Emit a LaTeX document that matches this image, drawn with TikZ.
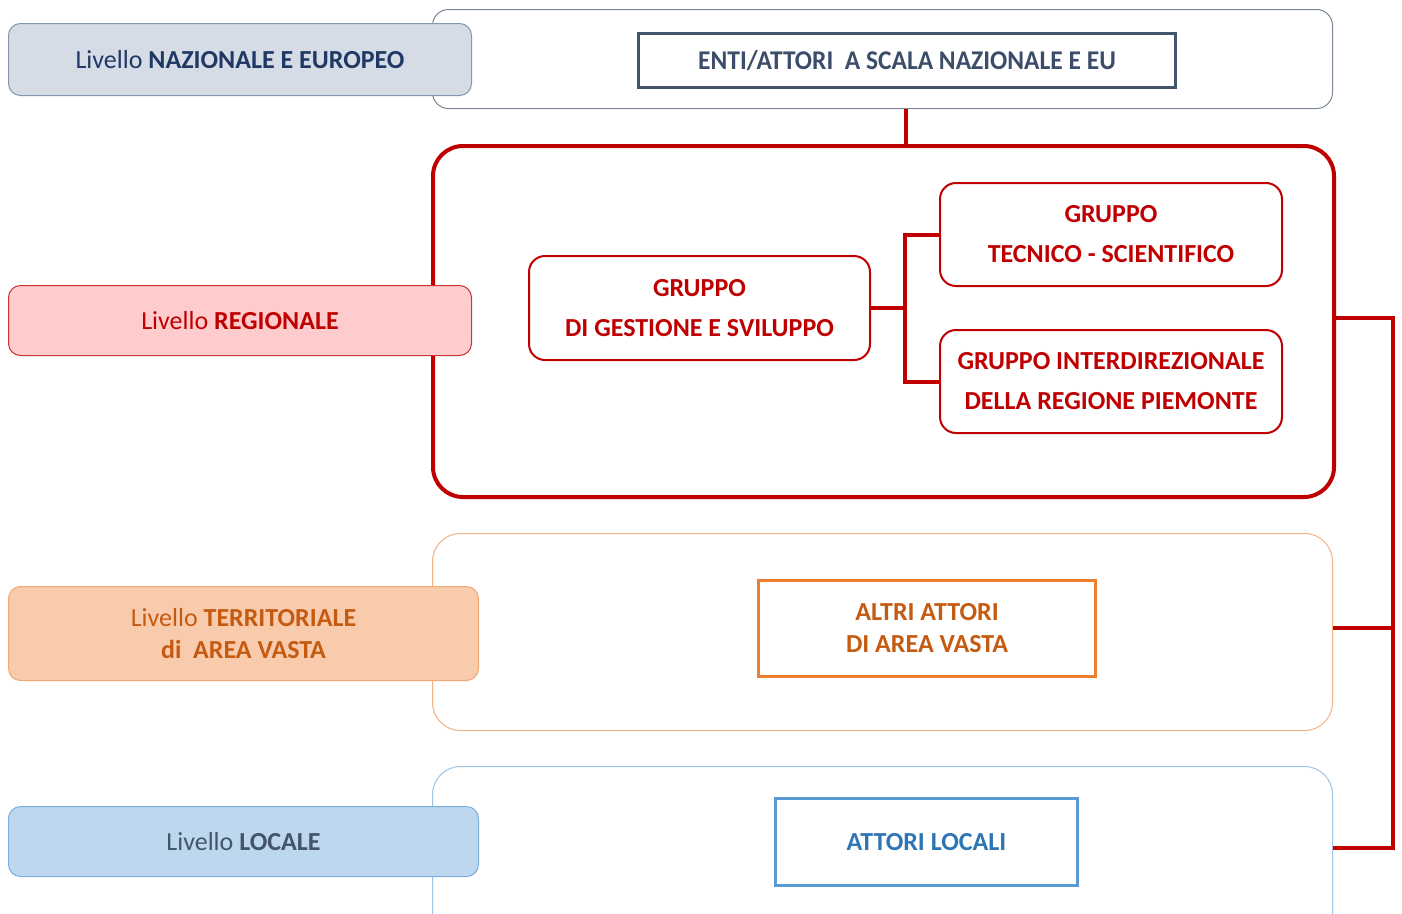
\documentclass[tikz,border=0pt]{standalone}
\usepackage{fontspec}
\setmainfont{Carlito}
\usetikzlibrary{positioning}
\definecolor{navy}{HTML}{1F3864}
\definecolor{slate}{HTML}{44546A}
\definecolor{natfill}{HTML}{D6DCE5}
\definecolor{natline}{HTML}{8497B0}
\definecolor{redd}{HTML}{C00000}
\definecolor{regfill}{HTML}{FFCCCD}
\definecolor{orng}{HTML}{ED7D31}
\definecolor{orngtxt}{HTML}{C55A11}
\definecolor{terfill}{HTML}{F8CBAD}
\definecolor{terline}{HTML}{F4B183}
\definecolor{blu}{HTML}{5B9BD5}
\definecolor{blutxt}{HTML}{2E75B6}
\definecolor{locfill}{HTML}{BDD7EE}
\definecolor{locline}{HTML}{9DC3E6}
\begin{document}
\begin{tikzpicture}[x=1pt,y=-1pt,
  lvl/.style={draw,rounded corners=12pt,line width=1pt,inner sep=0pt,align=center,font=\fontsize{26}{32}\selectfont},
  row/.style={draw,rounded corners=28pt,line width=1pt,fill=white},
  inbox/.style={draw,line width=3pt,inner sep=0pt,align=center,font=\fontsize{26}{32}\selectfont\bfseries},
  grp/.style={draw=redd,rounded corners=16pt,line width=2pt,inner sep=0pt,align=center,text=redd,font=\fontsize{26}{40}\selectfont\bfseries},
  link/.style={draw=redd,line width=4pt}]
\path[use as bounding box] (0,0) rectangle (1402,913);
\fill[white] (0,0) rectangle (1402,913);
% rows
\node[row,draw=slate!70,rounded corners=16pt,minimum width=900pt,minimum height=99pt,anchor=north west] (rnat) at (432,9) {};
\node[row,draw=redd,line width=4pt,rounded corners=30pt,minimum width=901pt,minimum height=351pt,anchor=north west] (rreg) at (431,144) {};
\node[row,draw=terline,minimum width=900pt,minimum height=197pt,anchor=north west] (rter) at (432,533) {};
\begin{scope}
\clip (0,0) rectangle (1402,913);
\node[row,draw=locline,minimum width=900pt,minimum height=200pt,anchor=north west] (rloc) at (432,766) {};
\end{scope}
% level labels
\node[lvl,draw=natline,fill=natfill,text=navy,minimum width=463pt,minimum height=72pt,anchor=north west] (lnat) at (8,23) {Livello \textbf{NAZIONALE E EUROPEO}};
\node[lvl,draw=redd!80,fill=regfill,text=redd,minimum width=463pt,minimum height=70pt,anchor=north west] (lreg) at (8,285) {Livello \textbf{REGIONALE}};
\node[lvl,draw=terline!80!orng,fill=terfill,text=orngtxt,minimum width=470pt,minimum height=94pt,anchor=north west] (lter) at (8,586) {Livello \textbf{TERRITORIALE}\\ \textbf{di\ \ AREA VASTA}};
\node[lvl,draw=blu!80,fill=locfill,text=slate,minimum width=470pt,minimum height=70pt,anchor=north west] (lloc) at (8,806) {Livello \textbf{LOCALE}};
% inner boxes
\node[inbox,draw=slate,text=slate!75!navy,minimum width=537pt,minimum height=54pt,anchor=north west] (enti) at (637,32) {\scalebox{0.98}[1.04]{ENTI/ATTORI\ \ A SCALA NAZIONALE E EU}};
\node[grp,minimum width=341pt,minimum height=104pt,anchor=north west] (gest) at (528,255) {GRUPPO\\DI GESTIONE E SVILUPPO};
\node[grp,minimum width=342pt,minimum height=103pt,anchor=north west] (tec) at (939,182) {GRUPPO\\TECNICO - SCIENTIFICO};
\node[grp,minimum width=342pt,minimum height=103pt,anchor=north west] (inter) at (939,329) {GRUPPO INTERDIREZIONALE\\DELLA REGIONE PIEMONTE};
\node[inbox,draw=orng,text=orngtxt,minimum width=337pt,minimum height=96pt,anchor=north west] (altri) at (757,579) {ALTRI ATTORI\\DI AREA VASTA};
\node[inbox,draw=blu,text=blutxt,minimum width=302pt,minimum height=87pt,anchor=north west] (attloc) at (774,797) {ATTORI LOCALI};
% connectors
\coordinate (jn) at (gest.east -| 905,0);
\coordinate (rb) at (1393,318);
\draw[link] (rnat.south -| 906,0) -- (rreg.north -| 906,0);
\draw[link] (gest.east) -- (jn);
\draw[link] (tec.west) -| (jn) |- (inter.west);
\draw[link,line join=miter] (rreg.east |- rb) -- (rb) |- (rloc.east |- 0,848);
\draw[link] (rter.east |- 0,628) -- (1393,628);
\end{tikzpicture}
\end{document}
